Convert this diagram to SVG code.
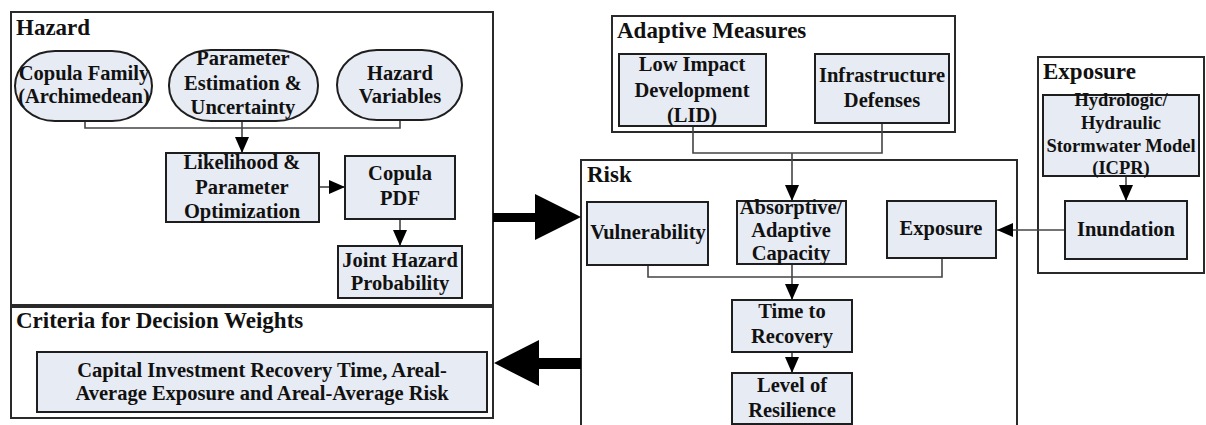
<svg xmlns="http://www.w3.org/2000/svg" width="1206" height="425" viewBox="0 0 1206 425">
<style>
text{font-family:"Liberation Serif","Times New Roman",serif;font-weight:bold;fill:#111;}
.title{font-size:23px;}
.t{font-size:20.5px;text-anchor:middle;}
.ts{font-size:18.5px;text-anchor:middle;}
.cont{fill:#fff;stroke:#2a2a2a;stroke-width:2;}
.node{fill:#E7EBF3;stroke:#1e1e1e;stroke-width:2;}
.conn{fill:none;stroke:#444;stroke-width:1.6;}
.big{fill:#000;}
</style>
<defs>
<marker id="ah" viewBox="0 0 16 14" markerWidth="16" markerHeight="14" refX="16" refY="7" orient="auto" markerUnits="userSpaceOnUse">
<path d="M0,0 L16,7 L0,14 z" fill="#000"/>
</marker>
</defs>
<rect width="1206" height="425" fill="#fff"/>

<g id="hazard">
<rect class="cont" x="11" y="12" width="482" height="293"/>
<text class="title" x="16" y="35">Hazard</text>
</g>
<g id="criteria">
<rect class="cont" x="11" y="307" width="482" height="111"/>
<text class="title" x="16" y="328">Criteria for Decision Weights</text>
</g>
<g id="adaptive">
<rect class="cont" x="612" y="16" width="343" height="116"/>
<text class="title" x="617" y="38">Adaptive Measures</text>
</g>
<g id="risk">
<rect class="cont" x="581" y="160" width="436" height="290"/>
<text class="title" x="587" y="182">Risk</text>
</g>
<g id="exposure-group">
<rect class="cont" x="1038" y="57" width="166" height="216"/>
<text class="title" x="1043" y="79">Exposure</text>
</g>

<g id="connectors">
<polyline class="conn" points="85,121 85,128 400,128 400,120"/>
<line class="conn" x1="242" y1="121" x2="242" y2="153" marker-end="url(#ah)"/>
<line class="conn" x1="319" y1="187" x2="345" y2="187" marker-end="url(#ah)"/>
<line class="conn" x1="400" y1="219" x2="400" y2="246" marker-end="url(#ah)"/>
<polyline class="conn" points="693,126 693,153 882,153 882,123"/>
<line class="conn" x1="792" y1="153" x2="792" y2="201" marker-end="url(#ah)"/>
<polyline class="conn" points="648,265 648,277 942,277 942,258"/>
<line class="conn" x1="792" y1="264" x2="792" y2="300" marker-end="url(#ah)"/>
<line class="conn" x1="792" y1="352" x2="792" y2="373" marker-end="url(#ah)"/>
<line class="conn" x1="1126" y1="176" x2="1126" y2="201" marker-end="url(#ah)"/>
<line class="conn" x1="1065" y1="230" x2="997" y2="230" marker-end="url(#ah)"/>
<polygon class="big" points="493,213 535,213 535,194 581,217 535,240 535,222 493,222"/>
<polygon class="big" points="581,358 539,358 539,340 494,363 539,386 539,369 581,369"/>
</g>

<g id="copula-family">
<rect class="node" x="15" y="51" width="137" height="70" rx="40" ry="35"/>
<text class="t" x="84" y="80">Copula Family</text>
<text class="t" x="84" y="103">(Archimedean)</text>
</g>
<g id="parameter-estimation">
<rect class="node" x="169" y="50" width="149" height="71" rx="42" ry="35"/>
<text class="t" x="243" y="65">Parameter</text>
<text class="t" x="243" y="90">Estimation &amp;</text>
<text class="t" x="243" y="114">Uncertainty</text>
</g>
<g id="hazard-variables">
<rect class="node" x="337" y="50" width="125" height="70" rx="40" ry="35"/>
<text class="t" x="400" y="80">Hazard</text>
<text class="t" x="400" y="103">Variables</text>
</g>
<g id="likelihood">
<rect class="node" x="166" y="153" width="153" height="69"/>
<text class="t" x="242" y="169">Likelihood &amp;</text>
<text class="t" x="242" y="194">Parameter</text>
<text class="t" x="242" y="218">Optimization</text>
</g>
<g id="copula-pdf">
<rect class="node" x="345" y="156" width="110" height="63"/>
<text class="t" x="400" y="180">Copula</text>
<text class="t" x="400" y="205">PDF</text>
</g>
<g id="joint-hazard">
<rect class="node" x="338" y="246" width="124" height="52"/>
<text class="t" x="400" y="267">Joint Hazard</text>
<text class="t" x="400" y="290">Probability</text>
</g>
<g id="capital">
<rect class="node" x="37" y="352" width="450" height="60"/>
<text class="t" x="262" y="377">Capital Investment Recovery Time, Areal-</text>
<text class="t" x="262" y="400">Average Exposure and Areal-Average Risk</text>
</g>
<g id="lid">
<rect class="node" x="619" y="54" width="147" height="72"/>
<text class="t" x="692" y="71">Low Impact</text>
<text class="t" x="692" y="97">Development</text>
<text class="t" x="692" y="122">(LID)</text>
</g>
<g id="infrastructure">
<rect class="node" x="815" y="54" width="134" height="69"/>
<text class="t" x="882" y="82">Infrastructure</text>
<text class="t" x="882" y="107">Defenses</text>
</g>
<g id="vulnerability">
<rect class="node" x="587" y="202" width="121" height="63"/>
<text class="t" x="648" y="239">Vulnerability</text>
</g>
<g id="absorptive">
<rect class="node" x="737" y="201" width="109" height="63"/>
<text class="t" x="791" y="214">Absorptive/</text>
<text class="t" x="791" y="237">Adaptive</text>
<text class="t" x="791" y="260">Capacity</text>
</g>
<g id="exposure">
<rect class="node" x="887" y="201" width="109" height="57"/>
<text class="t" x="941" y="235">Exposure</text>
</g>
<g id="time-to-recovery">
<rect class="node" x="732" y="300" width="120" height="52"/>
<text class="t" x="792" y="318">Time to</text>
<text class="t" x="792" y="343">Recovery</text>
</g>
<g id="level-of-resilience">
<rect class="node" x="732" y="373" width="120" height="51"/>
<text class="t" x="792" y="392">Level of</text>
<text class="t" x="792" y="417">Resilience</text>
</g>
<g id="hydrologic">
<rect class="node" x="1043" y="95" width="156" height="81"/>
<text class="ts" x="1121" y="106">Hydrologic/</text>
<text class="ts" x="1121" y="129">Hydraulic</text>
<text class="ts" x="1121" y="152">Stormwater Model</text>
<text class="ts" x="1121" y="174">(ICPR)</text>
</g>
<g id="inundation">
<rect class="node" x="1065" y="201" width="122" height="58"/>
<text class="t" x="1126" y="236">Inundation</text>
</g>
</svg>
